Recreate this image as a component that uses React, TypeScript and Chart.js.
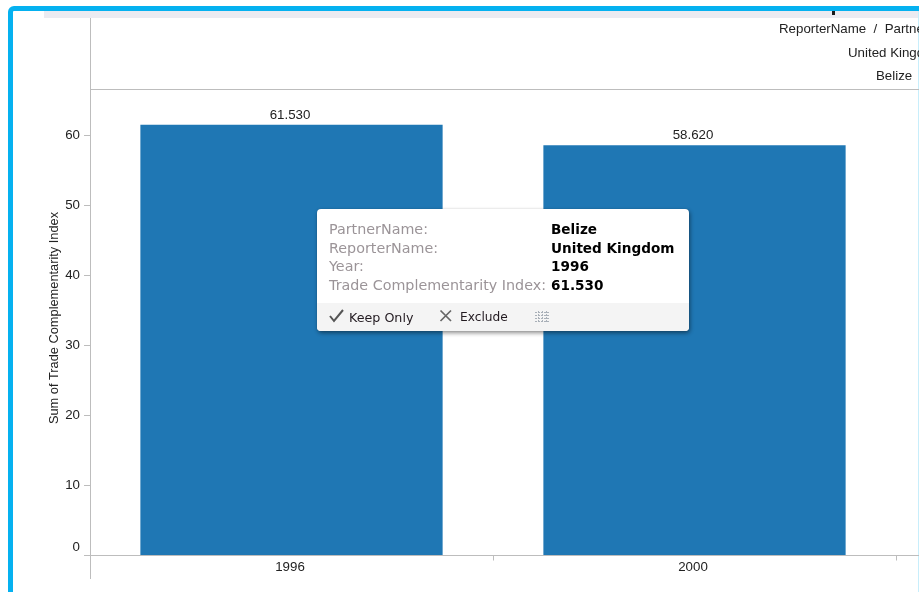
import React, { useEffect, useRef } from "react";
import { Chart, registerables } from "chart.js";

Chart.register(...registerables);

const years = ["1996", "2000"];
const complementarity = [61.53, 58.62];
const yTicks = [0, 10, 20, 30, 40, 50, 60];
const headerRows = ["ReporterName  /  PartnerName", "United Kingdom", "Belize"];
const partner = "Belize";
const reporter = "United Kingdom";

const BAR_BLUE = "#1f77b4";
const RULE = "#bdbdbd";
const FRAME_BLUE = "#05b1f0";
const AXIS_FONT = "Liberation Sans";
const AXIS_SIZE = 13.3;

// Window frame, header pane and axis rules, all painted behind the bars.
const paneries = {
  id: "paneries",
  beforeDatasetsDraw(chart: Chart) {
    const { ctx, width, height, chartArea } = chart;
    ctx.save();
    ctx.fillStyle = "#ebebf1";
    ctx.fillRect(44, 11, width - 44, 7);
    ctx.fillStyle = "#1a1a1a";
    ctx.fillRect(832, 11, 3, 4);

    ctx.strokeStyle = FRAME_BLUE;
    ctx.lineWidth = 5;
    ctx.beginPath();
    ctx.moveTo(10.5, height);
    ctx.lineTo(10.5, 12);
    ctx.arcTo(10.5, 8.5, 14, 8.5, 3.5);
    ctx.lineTo(width, 8.5);
    ctx.stroke();
    ctx.fillStyle = "#c8eefb";
    ctx.fillRect(width - 1, 11, 1, height - 11);

    ctx.fillStyle = RULE;
    ctx.fillRect(90, 18, 1, 561);
    ctx.fillRect(90, 89, width - 90, 1);
    ctx.fillRect(84, Math.round(chartArea.bottom) - 1, width - 84, 1);

    ctx.fillStyle = "#222222";
    ctx.font = `${AXIS_SIZE}px "${AXIS_FONT}"`;
    ctx.textBaseline = "middle";
    ctx.textAlign = "left";
    ctx.fillText(headerRows[0], 779, 29.5);
    ctx.fillText(headerRows[1], 848, 53);
    ctx.fillText(headerRows[2], 876, 76.5);

    ctx.font = `12.8px "${AXIS_FONT}"`;
    ctx.translate(54.5, 318);
    ctx.rotate(-Math.PI / 2);
    ctx.textAlign = "center";
    ctx.fillText("Sum of Trade Complementarity Index", 0, 0);
    ctx.restore();
  },
  afterDatasetsDraw(chart: Chart) {
    const { ctx } = chart;
    const bars = chart.getDatasetMeta(0).data;
    ctx.save();
    ctx.fillStyle = "#222222";
    ctx.font = `${AXIS_SIZE}px "${AXIS_FONT}"`;
    ctx.textAlign = "center";
    ctx.textBaseline = "middle";
    bars.forEach((bar: any, i: number) => {
      ctx.fillText(complementarity[i].toFixed(3), bar.x - 1.5, bar.y - 9.5);
    });
    ctx.restore();
  },
};

function DetailCard() {
  const rows: [string, string][] = [
    ["PartnerName:", partner],
    ["ReporterName:", reporter],
    ["Year:", years[0]],
    ["Trade Complementarity Index:", complementarity[0].toFixed(3)],
  ];
  const cardFont = '"DejaVu Sans", sans-serif';
  return (
    <div
      style={{
        position: "absolute",
        left: 317,
        top: 209,
        width: 372,
        height: 122,
        background: "#ffffff",
        borderRadius: 4,
        boxShadow: "1px 2px 4px rgba(0,0,0,0.45), 0 0 1px rgba(0,0,0,0.25)",
        fontFamily: cardFont,
        overflow: "hidden",
      }}
    >
      {rows.map(([label, value], i) => (
        <React.Fragment key={label}>
          <div
            style={{
              position: "absolute",
              left: 12,
              top: 11 + i * 18.7,
              lineHeight: "18px",
              color: "#9b9498",
              whiteSpace: "nowrap",
              fontSize: 14.3,
            }}
          >
            {label}
          </div>
          <div
            style={{
              position: "absolute",
              left: 234,
              top: 11 + i * 18.7,
              lineHeight: "18px",
              color: "#000000",
              fontWeight: 700,
              whiteSpace: "nowrap",
              fontSize: 13.6,
            }}
          >
            {value}
          </div>
        </React.Fragment>
      ))}
      <div
        style={{
          position: "absolute",
          left: 0,
          right: 0,
          top: 94,
          height: 28,
          background: "#f4f4f4",
          color: "#221a20",
        }}
      >
        <svg width="16" height="14" style={{ position: "absolute", left: 12, top: 6 }}>
          <path d="M1 7 L5 12 L14 1" fill="none" stroke="#555555" strokeWidth="2" />
        </svg>
        <span style={{ position: "absolute", left: 32, top: 7, whiteSpace: "nowrap", fontSize: 12.7 }}>Keep Only</span>
        <svg width="14" height="14" style={{ position: "absolute", left: 122, top: 6 }}>
          <path d="M1.5 1.5 L12 12 M12 1.5 L1.5 12" fill="none" stroke="#666666" strokeWidth="1.7" />
        </svg>
        <span style={{ position: "absolute", left: 143, top: 7, whiteSpace: "nowrap", fontSize: 12.2 }}>Exclude</span>
        <svg width="16" height="12" style={{ position: "absolute", left: 218, top: 8 }}>
          <path
            d="M0 1.5 H15 M0 4.5 H15 M0 7.5 H15 M0 10.5 H15 M3.5 0 V12 M7.5 0 V12 M11.5 0 V12"
            fill="none"
            stroke="#a9b0b8"
            strokeWidth="1"
            strokeDasharray="2 1"
          />
        </svg>
      </div>
    </div>
  );
}

export default function App() {
  const canvasRef = useRef<HTMLCanvasElement | null>(null);

  useEffect(() => {
    const chart = new Chart(canvasRef.current as HTMLCanvasElement, {
      type: "bar",
      data: {
        labels: years,
        datasets: [
          {
            label: "Sum of Trade Complementarity Index",
            data: complementarity,
            backgroundColor: BAR_BLUE,
            barPercentage: 0.75,
            categoryPercentage: 1,
          },
        ],
      },
      options: {
        responsive: false,
        animation: false,
        layout: { padding: { top: 89, right: 23, left: 0, bottom: 0 } },
        plugins: { legend: { display: false }, tooltip: { enabled: false } },
        scales: {
          x: {
            afterFit: (scale: any) => {
              scale.height = 36.5;
            },
            border: { display: false },
            grid: { drawOnChartArea: false, color: RULE, tickLength: 5 },
            ticks: {
              color: "#222222",
              font: { family: AXIS_FONT, size: AXIS_SIZE },
              padding: -1,
              labelOffset: -1.5,
              maxRotation: 0,
            },
          },
          y: {
            min: 0,
            max: 66.64,
            afterFit: (scale: any) => {
              scale.width = 90;
            },
            afterBuildTicks: (scale: any) => {
              scale.ticks = yTicks.map((value) => ({ value }));
            },
            border: { display: false },
            grid: { drawOnChartArea: false, color: RULE, tickLength: 6 },
            ticks: {
              color: "#222222",
              font: { family: AXIS_FONT, size: AXIS_SIZE, lineHeight: 1.3 },
              padding: 4,
              // The baseline label sits clear of the axis rule.
              callback: (value: any) => (value === 0 ? ["0", ""] : String(value)),
            },
          },
        },
      },
      plugins: [paneries],
    });
    return () => chart.destroy();
  }, []);

  return (
    <div style={{ position: "fixed", left: 0, top: 0, width: 919, height: 592, overflow: "hidden", background: "#fff" }}>
      <canvas ref={canvasRef} width={919} height={592} style={{ display: "block" }} />
      <DetailCard />
    </div>
  );
}
